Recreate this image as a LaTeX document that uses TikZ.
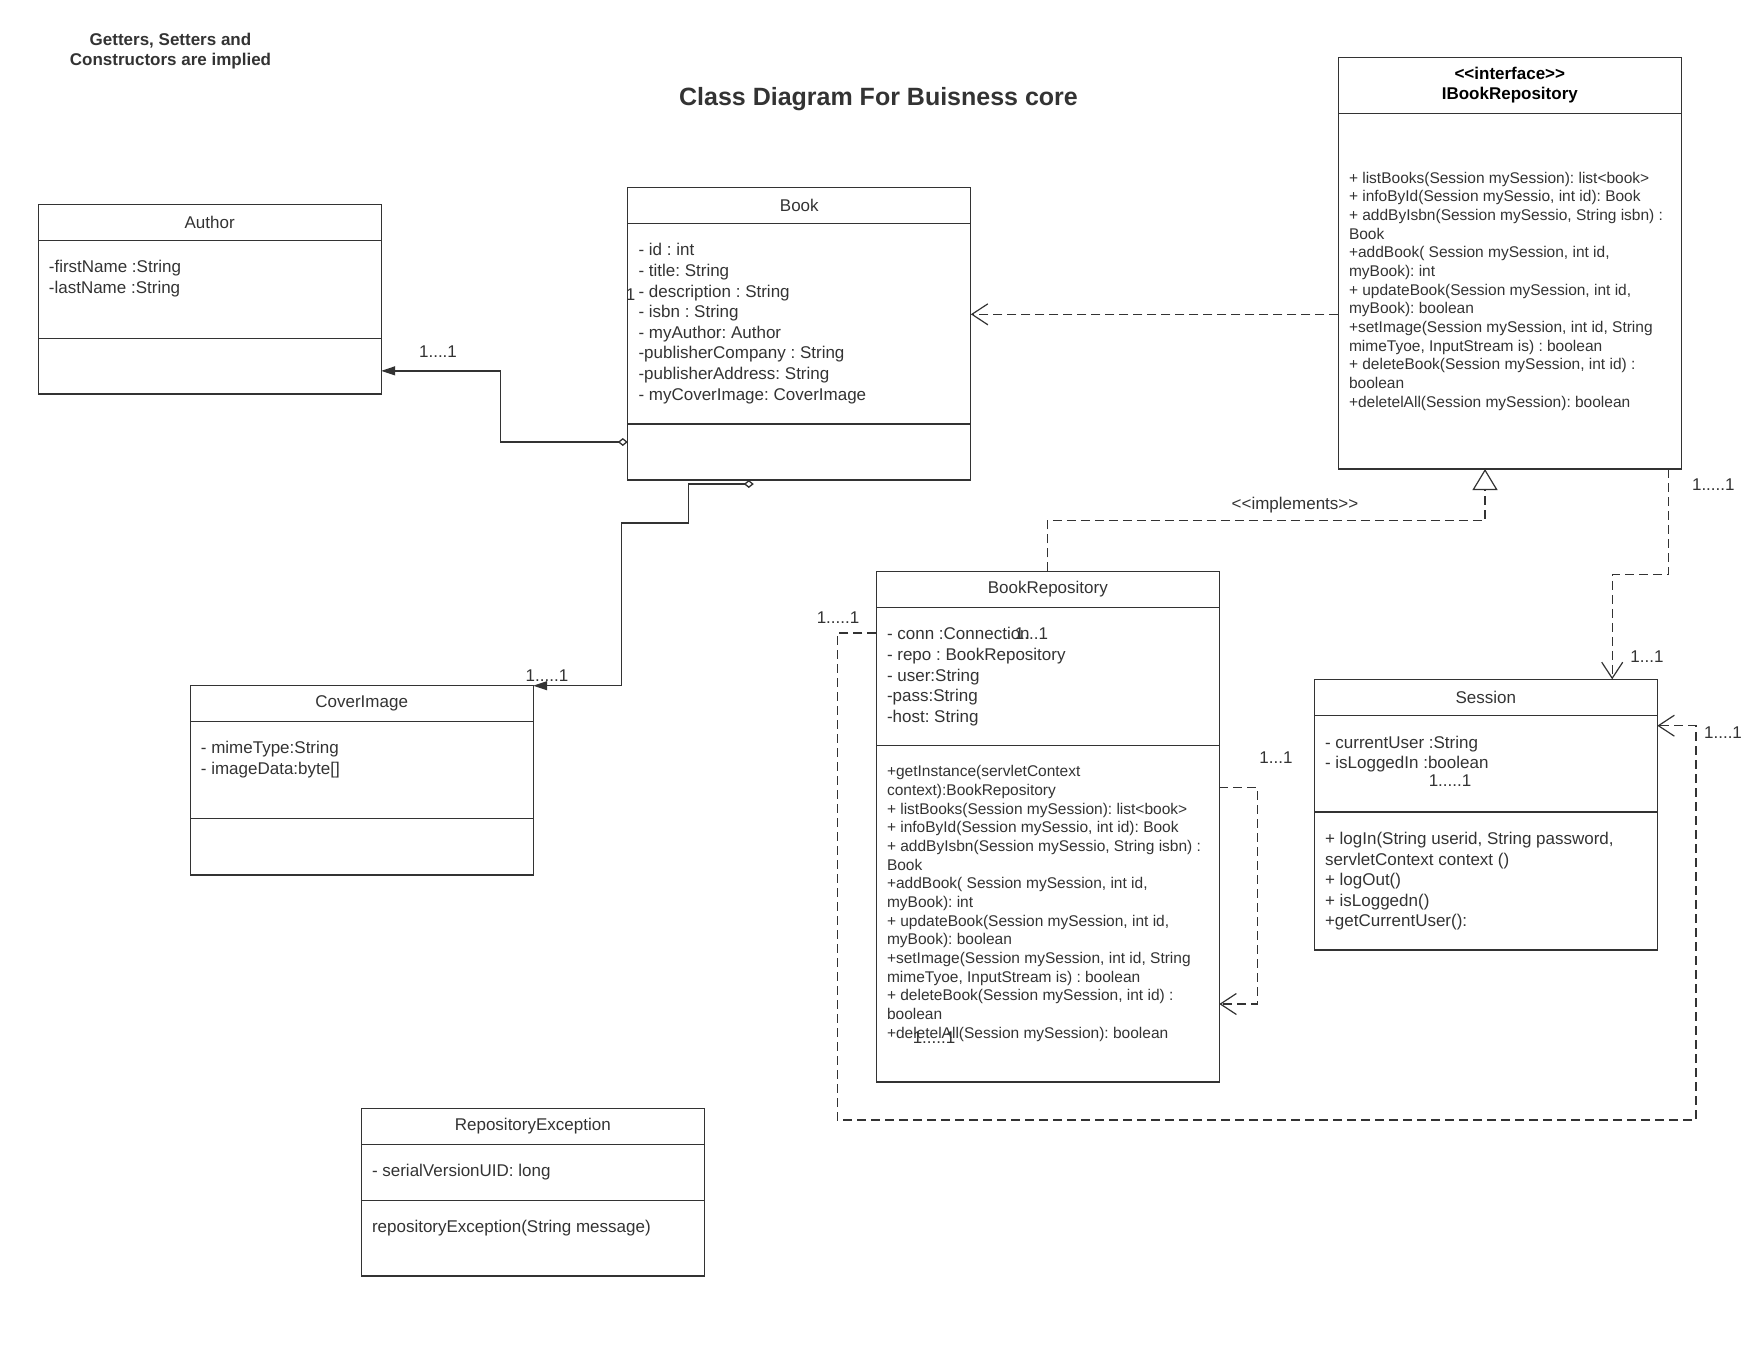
\documentclass[tikz,border=0pt]{standalone}
\usepackage{fontspec}
\setmainfont{Liberation Sans}[Ligatures=TeXOff]
\usetikzlibrary{positioning,arrows.meta}
\definecolor{umlgray}{RGB}{51,51,51}

\begin{document}
\frenchspacing
\begin{tikzpicture}[x=1pt,y=-1pt]
		\tikzstyle{classhead} = [rectangle, draw=umlgray, line width=1.3pt, minimum width=343pt, minimum height=36pt, inner sep=0pt, outer sep=0pt, text=umlgray, font=\fontsize{17}{20.6}\selectfont]
		\tikzstyle{compartment} = [rectangle, draw=umlgray, line width=1.3pt, minimum width=343pt, inner sep=0pt, outer sep=0pt]
		\tikzstyle{members} = [anchor=north west, align=left, inner sep=0pt, text=umlgray, font=\fontsize{17}{20.6}\selectfont]
		\tikzstyle{smallmembers} = [members, font=\fontsize{15.5}{18.67}\selectfont]
		\tikzstyle{mult} = [inner sep=0pt, anchor=base, text=umlgray, font=\fontsize{17}{20.6}\selectfont]
		\tikzstyle{aggregation} = [line width=1.3pt, draw=umlgray, {Diamond[open,length=10pt,width=8pt]}-{Triangle[length=14pt,width=9pt]}]
		\tikzstyle{dependency} = [line width=1.2pt, draw=umlgray, dash pattern=on 9pt off 5pt, -{Straight Barb[length=16pt,width=21pt]}]
		\tikzstyle{realization} = [line width=1.2pt, draw=umlgray, dash pattern=on 9pt off 5pt, -{Triangle[open,length=21pt,width=25pt]}]
		
		\useasboundingbox (0,0) rectangle (1760,1360);
		
		\node (note) [align=center, inner sep=0pt, text=umlgray, font=\fontsize{17}{20.3}\selectfont\bfseries] at (170.5,51) {Getters, Setters and\\Constructors are implied};
		\node (title) [inner sep=0pt, anchor=base, text=umlgray, font=\fontsize{25}{30}\selectfont\bfseries] at (878.5,105.7) {Class Diagram For Buisness core};
		
		\begin{scope}[node distance=0pt]
			\node (authorHead) [classhead, anchor=north west] at (38.2,204.3) {Author};
			\node (authorAttr) [compartment, minimum height=98pt, below = of authorHead] {};
			\node (authorOps) [compartment, minimum height=55.7pt, below = of authorAttr] {};
		\end{scope}
		\node (authorAttrText) [members] at ([shift={(10.5,20)}]authorAttr.north west) {-firstName :String\\-lastName :String};
		
		\begin{scope}[node distance=0pt]
			\node (bookHead) [classhead, anchor=north west] at (627.8,187.3) {Book};
			\node (bookAttr) [compartment, minimum height=200.7pt, below = of bookHead] {};
			\node (bookOps) [compartment, minimum height=56pt, below = of bookAttr] {};
		\end{scope}
		\node (bookAttrText) [members] at ([shift={(10.5,20)}]bookAttr.north west) {- id : int\\- title: String\\- description : String\\- isbn : String\\- myAuthor: Author\\-publisherCompany : String\\-publisherAddress: String\\- myCoverImage: CoverImage};
		
		\begin{scope}[node distance=0pt]
			\node (coverHead) [classhead, minimum height=35.6pt, anchor=north west] at (190.2,685.7) {CoverImage};
			\node (coverAttr) [compartment, minimum height=97pt, below = of coverHead] {};
			\node (coverOps) [compartment, minimum height=56.7pt, below = of coverAttr] {};
		\end{scope}
		\node (coverAttrText) [members] at ([shift={(10.5,20)}]coverAttr.north west) {- mimeType:String\\- imageData:byte[]};
		
		\begin{scope}[node distance=0pt]
			\node (rexHead) [classhead, anchor=north west] at (361.3,1108.3) {RepositoryException};
			\node (rexAttr) [compartment, minimum height=56pt, below = of rexHead] {};
			\node (rexOps) [compartment, minimum height=75.7pt, below = of rexAttr] {};
		\end{scope}
		\node (rexAttrText) [members] at ([shift={(10.5,20)}]rexAttr.north west) {- serialVersionUID: long};
		\node (rexOpsText) [members] at ([shift={(10.5,20)}]rexOps.north west) {repositoryException(String message)};
		
		\begin{scope}[node distance=0pt]
			\node (ifaceHead) [classhead, minimum height=56pt, align=center, text=black, font=\fontsize{17}{20}\selectfont\bfseries, anchor=north west] at (1338.3,57.3) {<<interface>>\\IBookRepository};
			\node (ifaceOps) [compartment, minimum height=355.7pt, below = of ifaceHead] {};
		\end{scope}
		\node (ifaceOpsText) [smallmembers, anchor=west] at ([xshift=10.5pt]ifaceOps.west) {+ listBooks(Session mySession): list<book>\\+ infoById(Session mySessio, int id): Book\\+ addByIsbn(Session mySessio, String isbn) :\\Book\\+addBook( Session mySession, int id,\\myBook): int\\+ updateBook(Session mySession, int id,\\myBook): boolean\\+setImage(Session mySession,  int id, String\\mimeTyoe, InputStream is) : boolean\\+ deleteBook(Session mySession, int id) :\\boolean\\+deletelAll(Session mySession): boolean};
		
		\begin{scope}[node distance=0pt]
			\node (brHead) [classhead, anchor=north west] at (876.3,571.3) {BookRepository};
			\node (brAttr) [compartment, minimum height=138pt, below = of brHead] {};
			\node (brOps) [compartment, minimum height=336.7pt, below = of brAttr] {};
		\end{scope}
		\node (brAttrText) [members] at ([shift={(10.5,20)}]brAttr.north west) {- conn :Connection\\- repo : BookRepository\\- user:String\\-pass:String\\-host: String};
		\node (brOpsText) [smallmembers] at ([shift={(10.5,20)}]brOps.north west) {+getInstance(servletContext\\context):BookRepository\\+ listBooks(Session mySession): list<book>\\+ infoById(Session mySessio, int id): Book\\+ addByIsbn(Session mySessio, String isbn) :\\Book\\+addBook( Session mySession, int id,\\myBook): int\\+ updateBook(Session mySession, int id,\\myBook): boolean\\+setImage(Session mySession,  int id, String\\mimeTyoe, InputStream is) : boolean\\+ deleteBook(Session mySession, int id) :\\boolean\\+deletelAll(Session mySession): boolean};
		
		\begin{scope}[node distance=0pt]
			\node (sessHead) [classhead, minimum height=36.4pt, anchor=north west] at (1314.3,679.3) {Session};
			\node (sessAttr) [compartment, minimum height=96.3pt, below = of sessHead] {};
			\node (sessOps) [compartment, minimum height=138pt, below = of sessAttr] {};
		\end{scope}
		\node (sessAttrText) [members] at ([shift={(10.5,20)}]sessAttr.north west) {- currentUser :String\\- isLoggedIn :boolean};
		\node (sessOpsText) [members] at ([shift={(10.5,20)}]sessOps.north west) {+ logIn(String userid,  String password,\\servletContext context ()\\+ logOut()\\+ isLoggedn()\\+getCurrentUser():};
		
		\coordinate (bookCoverEnd) at ([xshift=126pt,yshift=-4pt]bookOps.south west);
		\coordinate (ifaceLink) at ([yshift=-23.15pt]ifaceOps.west);
		
		\draw [aggregation] ([yshift=10pt]bookOps.west) -| ([xshift=119pt,yshift=-4.7pt]authorOps.east) -- ([yshift=-4.7pt]authorOps.east);
		\draw [aggregation] (bookCoverEnd) -| ++(-65.5,39) -| ([xshift=88pt]coverHead.north east) -- (coverHead.north east);
		
		\draw [dependency] (ifaceLink) -- (ifaceLink -| bookAttr.east);
		\draw [realization] (brHead.north) -- ++(0,-51) -| ([xshift=-24.8pt]ifaceOps.south);
		\draw [dependency] ([xshift=-13pt]ifaceOps.south east) -- ++(0,105.3) -| ([xshift=126.4pt]sessHead.north);
		\draw [dependency] ([yshift=126.35pt]brOps.east) -- ++(38,0) |- ([yshift=-90.35pt]brOps.east);
		\draw [dependency] ([yshift=43.3pt]brAttr.west) -- ++(-39,0) -- ++(0,487) -| ([xshift=38.7pt,yshift=38.15pt]sessAttr.east) -- ([yshift=38.15pt]sessAttr.east);
		
		\node (authorMult) [mult] at (438,357.8) {1....1};
		\node (bookMult) [mult] at (630.7,300.1) {1};
		\node (coverMult) [mult] at (547,681.1) {1.....1};
		\node (implementsLabel) [mult] at (1295,509.4) {<<implements>>};
		\node (ifaceMult) [mult] at (1713.3,490.1) {1.....1};
		\node (sessTopMult) [mult] at (1647,662.8) {1...1};
		\node (brLeftMult) [mult] at (838,623.6) {1.....1};
		\node (brLoopMult) [mult] at (1276,763.1) {1...1};
		\node (sessRightMult) [mult] at (1723,738.8) {1....1};
		\node (sessAttrMult) [mult] at (1450,786.1) {1.....1};
		\node (brConnMult) [mult] at (1031.5,639.1) {1...1};
		\node (brOpsMult) [mult] at (934,1043.6) {1.....1};
	
	\end{tikzpicture}
\end{document}
